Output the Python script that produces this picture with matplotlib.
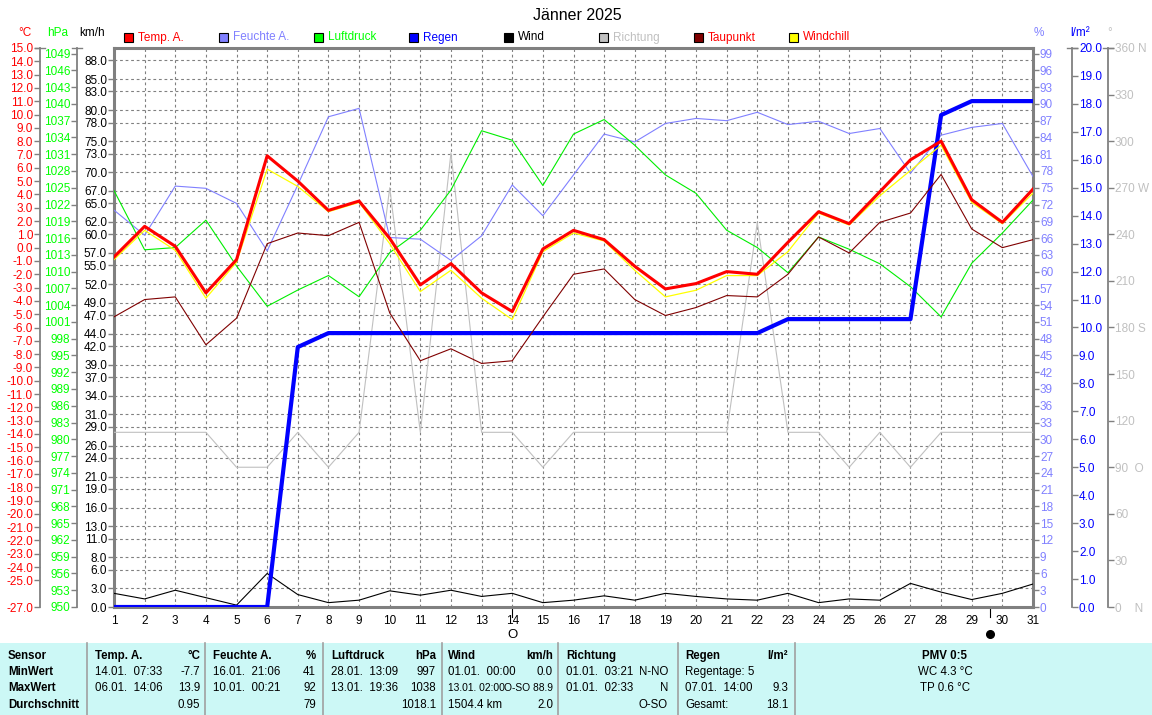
import matplotlib
matplotlib.use('Agg')
import matplotlib.pyplot as plt
from matplotlib import transforms
from matplotlib.lines import Line2D
from matplotlib.patches import Rectangle

plt.rcParams['font.family'] = ['Liberation Sans', 'DejaVu Sans']

# ---------------- data ----------------
days = list(range(1, 32))
temp = [-0.7, 1.6, 0.1, -3.4, -0.9, 6.9, 5.0, 2.8, 3.5, 0.7, -2.8, -1.2, -3.4, -4.8, -0.1,
        1.3, 0.6, -1.4, -3.1, -2.7, -1.8, -2.0, 0.4, 2.7, 1.8, 4.2, 6.6, 8.0, 3.6, 1.9, 4.4]
windchill = [-0.9, 1.3, -0.2, -3.8, -1.1, 5.9, 4.6, 2.7, 3.4, 0.3, -3.3, -1.7, -3.8, -5.4, -0.3,
             1.1, 0.5, -1.7, -3.7, -3.2, -2.1, -2.1, -0.3, 2.6, 1.7, 3.9, 5.8, 7.7, 3.4, 1.8, 4.1]
dewpoint = [-5.2, -3.9, -3.7, -7.3, -5.3, 0.3, 1.1, 0.9, 1.9, -4.9, -8.5, -7.6, -8.7, -8.5, -5.2,
            -2.0, -1.6, -3.9, -5.1, -4.5, -3.6, -3.7, -2.0, 0.8, -0.4, 1.9, 2.6, 5.5, 1.4, 0.0, 0.6]
humidity = [71.0, 66.5, 75.3, 74.9, 72.2, 63.7, 75.5, 87.7, 89.2, 66.1, 65.8, 62.0, 66.4, 75.5, 70.0,
            77.3, 84.6, 83.2, 86.5, 87.4, 87.0, 88.5, 86.3, 86.9, 84.7, 85.6, 77.6, 84.4, 85.8, 86.5, 77.0]
pressure = [1024.5, 1013.9, 1014.3, 1019.2, 1011.0, 1003.8, 1006.7, 1009.3, 1005.5, 1013.4, 1017.4,
            1024.6, 1035.2, 1033.5, 1025.4, 1034.6, 1037.2, 1032.6, 1027.3, 1024.0, 1017.4, 1014.3,
            1009.8, 1016.2, 1014.0, 1011.4, 1007.3, 1001.9, 1011.5, 1016.9, 1022.8]
rain = [0.0, 0.0, 0.0, 0.0, 0.0, 0.0, 9.3, 9.8, 9.8, 9.8, 9.8, 9.8, 9.8, 9.8, 9.8, 9.8, 9.8, 9.8,
        9.8, 9.8, 9.8, 9.8, 10.3, 10.3, 10.3, 10.3, 10.3, 17.6, 18.1, 18.1, 18.1]
wind = [2.2, 1.3, 2.7, 1.5, 0.3, 5.4, 2.0, 0.7, 1.1, 2.6, 1.9, 2.7, 1.7, 2.2, 0.7, 1.1, 1.8, 1.1,
        2.2, 1.7, 1.3, 1.1, 2.2, 0.7, 1.3, 1.1, 3.8, 2.4, 1.2, 2.2, 3.7]
direction = [112.5, 112.5, 112.5, 112.5, 90, 90, 112.5, 90, 112.5, 270, 112.5, 292.5, 112.5, 112.5, 90,
             112.5, 112.5, 112.5, 112.5, 112.5, 112.5, 247.5, 112.5, 112.5, 90, 112.5, 90, 112.5,
             112.5, 112.5, 112.5]

kmh_ticks = [0.0, 3.0, 6.0, 8.0, 11.0, 13.0, 16.0, 19.0, 21.0, 24.0, 26.0, 29.0, 31.0, 34.0, 37.0,
             39.0, 42.0, 44.0, 47.0, 49.0, 52.0, 55.0, 57.0, 60.0, 62.0, 65.0, 67.0, 70.0, 73.0, 75.0,
             78.0, 80.0, 83.0, 85.0, 88.0]
temp_ticks = [v for v in range(-27, 16) if v != -26]
press_ticks = list(range(950, 1050, 3))
hum_ticks = list(range(0, 100, 3))
rain_ticks = list(range(0, 21))
dir_ticks = list(range(0, 361, 30))
dir_labels = {0: '0    N', 90: '90  O', 180: '180 S', 270: '270 W', 360: '360 N'}

legend_names = ['Temp. A.', 'Feuchte A.', 'Luftdruck', 'Regen', 'Wind', 'Richtung', 'Taupunkt', 'Windchill']
legend_box = ['#FF0000', '#8080FF', '#00FF00', '#0000FF', '#000000', '#C0C0C0', '#800000', '#FFFF00']
legend_txt = ['#FF0000', '#8080FF', '#00FF00', '#0000FF', '#000000', '#C0C0C0', '#FF0000', '#FF0000']

full_moon_day = 14
new_moon_day = 29.6

# ---------------- figure ----------------
W, H = 1152, 715
fig = plt.figure(figsize=(W / 100, H / 100), dpi=100)
L, R, T, B = 114, 1033, 48, 607
rect = [L / W, (H - B) / H, (R - L) / W, (B - T) / H]
GRAY = '#808080'
FS = 8.5
TFS = 8.3


def px(v):
    return v * 0.72


ax = fig.add_axes(rect)
ax.set_xlim(1, 31)
ax.set_ylim(0, 90)
ax.set_xticks(days)
ax.set_xticklabels([str(d) for d in days])
ax.set_yticks(kmh_ticks)
ax.set_yticklabels([f'{v:.1f}' for v in kmh_ticks])
ax.tick_params(axis='x', length=0, pad=6, labelsize=FS, labelcolor='black')
ax.tick_params(axis='y', length=4, width=1, color=GRAY, pad=1, labelsize=FS, labelcolor='black')
ax.grid(True, color=GRAY, linestyle=(0, (2.5, 2.5)), linewidth=0.8)
ax.set_axisbelow(True)
for s in ax.spines.values():
    s.set_color(GRAY)
    s.set_linewidth(2.2)
ax.plot(days, wind, color='black', lw=0.8, zorder=3)


def side_axis(side, offset, lim, ticks, labels, color):
    a = fig.add_axes(rect, sharex=ax)
    a.patch.set_visible(False)
    for s in a.spines.values():
        s.set_visible(False)
    sp = a.spines[side]
    sp.set_visible(True)
    sp.set_position(('outward', px(offset)))
    sp.set_color(GRAY)
    sp.set_linewidth(1.3)
    a.set_ylim(*lim)
    if side == 'left':
        a.yaxis.tick_left()
    else:
        a.yaxis.tick_right()
    a.set_yticks(ticks)
    a.set_yticklabels(labels)
    a.tick_params(axis='y', length=4, width=1, color=GRAY, pad=1, labelsize=FS, labelcolor=color)
    a.tick_params(axis='x', bottom=False, labelbottom=False, top=False, labeltop=False)
    a.grid(False)
    return a


ax_dir = side_axis('right', 75, (0, 360), dir_ticks,
                   [dir_labels.get(v, str(v)) for v in dir_ticks], '#C0C0C0')
ax_dir.plot(days, direction, color='#C0C0C0', lw=0.8)

ax_hum = side_axis('right', 0, (0, 100), hum_ticks, [str(v) for v in hum_ticks], '#8080FF')
ax_hum.spines['right'].set_visible(False)
ax_hum.plot(days, humidity, color='#8080FF', lw=0.8)

ax_p = side_axis('left', 37, (950, 1050), press_ticks, [str(v) for v in press_ticks], '#00FF00')
ax_p.plot(days, pressure, color='#00EE00', lw=0.8)

ax_r = side_axis('right', 39, (0, 20), rain_ticks, [f'{v:.1f}' for v in rain_ticks], '#0000FF')
ax_r.plot(days, rain, color='#0000FF', lw=3.0, solid_joinstyle='round')

ax_t = side_axis('left', 74, (-27, 15), temp_ticks, [f'{v:.1f}' for v in temp_ticks], '#FF0000')
ax_t.plot(days, dewpoint, color='#800000', lw=0.8)
ax_t.plot(days, windchill, color='#FFFF00', lw=0.9)
ax_t.plot(days, temp, color='#FF0000', lw=2.2)

# caps on top of outer spines
for xc in (40, 77, 1072, 1108):
    fig.add_artist(Line2D([(xc - 5) / W, (xc + 5) / W], [1 - T / H, 1 - T / H],
                          color=GRAY, lw=1.0, transform=fig.transFigure))

# moon markers
bt = transforms.blended_transform_factory(ax.transData, ax.transAxes)
for d in (full_moon_day, new_moon_day):
    ax.plot([d, d], [0, -10 / (B - T)], color='black', lw=0.8, transform=bt, clip_on=False)
ax.text(full_moon_day, -28.5 / (B - T), 'O', transform=bt, ha='center', va='center',
        fontsize=9.5, color='black')
ax.plot([new_moon_day], [-27 / (B - T)], marker='o', ms=5.5, color='black', transform=bt,
        clip_on=False)


def ftext(x, y, s, **kw):
    kw.setdefault('va', 'center')
    kw.setdefault('fontsize', TFS)
    fig.text(x / W, 1 - y / H, s, **kw)


# title
ftext(577, 15, 'Jänner 2025', ha='center', fontsize=11.5)

# unit headers
ftext(25, 33, '°C', ha='center', color='#FF0000', fontsize=FS)
ftext(58, 33, 'hPa', ha='center', color='#00FF00', fontsize=FS)
ftext(92, 33, 'km/h', ha='center', color='black', fontsize=FS)
ftext(1039, 33, '%', ha='center', color='#8080FF', fontsize=FS)
ftext(1080, 33, 'l/m²', ha='center', color='#0000FF', fontsize=FS)
ftext(1110, 33, '°', ha='center', color='#C0C0C0', fontsize=FS)

# legend
for i, (name, bc, tc) in enumerate(zip(legend_names, legend_box, legend_txt)):
    x0 = 124 + 95 * i
    fig.add_artist(Rectangle((x0 / W, 1 - 42 / H), 9 / W, 9 / H, facecolor=bc, edgecolor='black',
                             lw=0.8, transform=fig.transFigure))
    ftext(x0 + 14, 37.5, name, ha='left', color=tc, fontsize=FS)

# ---------------- table ----------------
fig.add_artist(Rectangle((0, 0), 1, (H - 643) / H, facecolor='#CCF8F6', edgecolor='none',
                         transform=fig.transFigure, zorder=0))
for xs in (87, 205, 323, 442, 558, 678, 795):
    fig.add_artist(Line2D([xs / W, xs / W], [0, (H - 643) / H], color='#A0A0A0', lw=1.2,
                          transform=fig.transFigure))

rows_y = [656, 672, 688, 705]
row_names = ['Sensor', 'MinWert', 'MaxWert', 'Durchschnitt']
for yy, nm in zip(rows_y, row_names):
    ftext(8, yy, nm, ha='left', fontweight='bold')

table_cols = [
    (95, 200, 'Temp. A.', '°C', [('14.01.  07:33', '-7.7'), ('06.01.  14:06', '13.9'), ('', '0.95')]),
    (213, 316, 'Feuchte A.', '%', [('16.01.  21:06', '41'), ('10.01.  00:21', '92'), ('', '79')]),
    (331, 436, 'Luftdruck', 'hPa', [('28.01.  13:09', '997'), ('13.01.  19:36', '1038'), ('', '1018.1')]),
    (448, 553, 'Wind', 'km/h', [('01.01.  00:00', '0.0'), ('13.01. 02:00', 'O-SO 88.9'), ('1504.4 km', '2.0')]),
    (566, 668, 'Richtung', '', [('01.01.  03:21', 'N-NO'), ('01.01.  02:33', 'N'), ('', 'O-SO')]),
    (685, 788, 'Regen', 'l/m²', [('Regentage: 5', ''), ('07.01.  14:00', '9.3'), ('Gesamt:', '18.1')]),
]
for xl, xr, head, unit, vals in table_cols:
    ftext(xl, rows_y[0], head, ha='left', fontweight='bold')
    ftext(xr, rows_y[0], unit, ha='right', fontweight='bold')
    for yy, (lt, rt) in zip(rows_y[1:], vals):
        if lt == '13.01. 02:00':
            ftext(xl, yy, lt, ha='left', fontsize=7.4)
            ftext(xr, yy, rt, ha='right', fontsize=7.4)
        else:
            ftext(xl, yy, lt, ha='left')
            ftext(xr, yy, rt, ha='right')

ftext(945, rows_y[0], 'PMV 0:5', ha='center', fontweight='bold')
ftext(945, rows_y[1], 'WC 4.3 °C', ha='center')
ftext(945, rows_y[2], 'TP 0.6 °C', ha='center')

fig.savefig('out.png', dpi=100)
